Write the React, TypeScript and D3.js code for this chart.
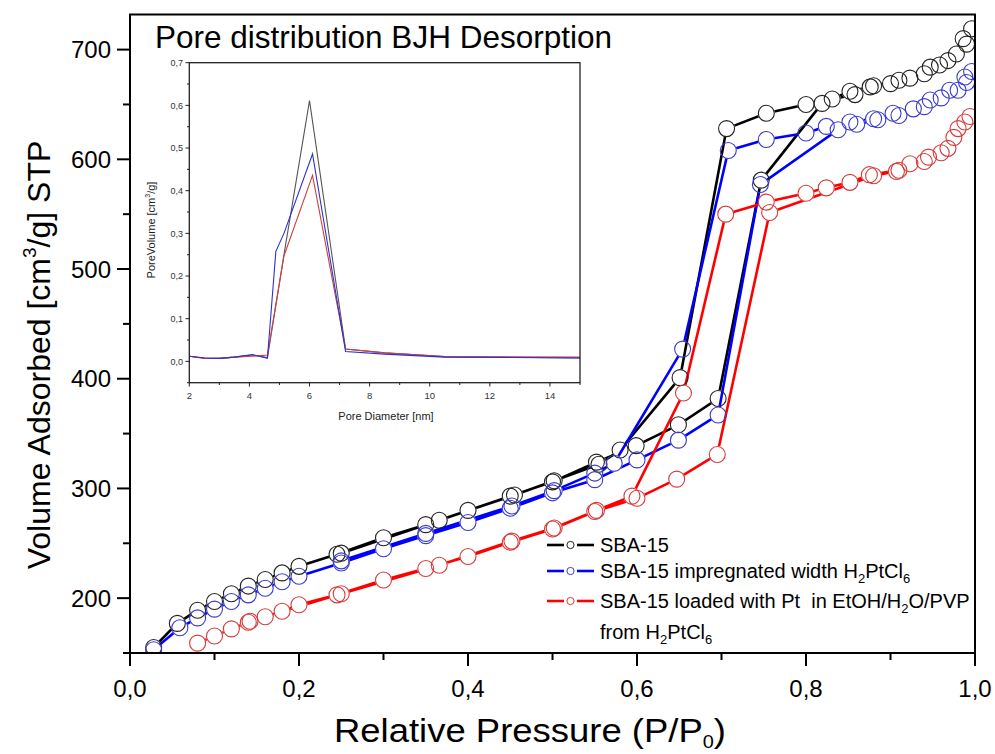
import React from 'react';
import * as d3 from 'd3';

// ---------- main isotherm data ----------
const xTicks = [0, 0.2, 0.4, 0.6, 0.8, 1.0];
const xMinorTicks = [0.1, 0.3, 0.5, 0.7, 0.9];
const yTicks = [200, 300, 400, 500, 600, 700];
const yMinorTicks = [150, 250, 350, 450, 550, 650];

const sbaAdsP = [0.028, 0.056, 0.08, 0.10, 0.12, 0.14, 0.16, 0.18, 0.20, 0.245, 0.30, 0.35, 0.40, 0.45, 0.50, 0.552, 0.599, 0.649, 0.696, 0.747, 0.819, 0.831, 0.852, 0.876, 0.90, 0.923, 0.947, 0.968, 0.986, 0.996];
const sbaAdsV = [155, 177, 189, 197, 204, 211, 217, 223, 229, 240, 255, 267, 280, 293, 306, 324, 339, 358, 382, 581, 651, 655, 662, 666, 669, 674, 684, 690, 710, 719];
const sbaDesP = [0.99, 0.978, 0.958, 0.94, 0.91, 0.88, 0.858, 0.80, 0.753, 0.706, 0.651, 0.58, 0.555, 0.502, 0.455, 0.366, 0.25];
const sbaDesV = [705, 696, 686, 678, 672, 667, 659, 650, 642, 628, 401, 335, 322, 307, 294, 271, 241];

const impAdsP = [0.028, 0.059, 0.08, 0.10, 0.12, 0.14, 0.16, 0.18, 0.20, 0.25, 0.30, 0.35, 0.40, 0.45, 0.50, 0.55, 0.60, 0.649, 0.696, 0.746, 0.838, 0.86, 0.885, 0.903, 0.927, 0.947, 0.97, 0.988, 0.996];
const impAdsV = [153, 173, 182, 190, 197, 203, 209, 215, 220, 232, 245, 257, 269, 282, 296, 308, 326, 344, 367, 577, 627, 632, 636, 642, 646, 654, 663, 675, 680];
const impDesP = [0.99, 0.98, 0.96, 0.94, 0.91, 0.88, 0.852, 0.824, 0.80, 0.753, 0.708, 0.654, 0.573, 0.55, 0.502, 0.452, 0.35, 0.25];
const impDesV = [670, 663, 656, 648, 640, 637, 634, 630, 624, 618, 608, 427, 323, 314, 298, 284, 259, 234];

const ptAdsP = [0.08, 0.10, 0.12, 0.14, 0.16, 0.18, 0.20, 0.245, 0.30, 0.35, 0.40, 0.45, 0.50, 0.55, 0.60, 0.647, 0.695, 0.757, 0.88, 0.907, 0.923, 0.945, 0.968, 0.98, 0.994];
const ptAdsV = [159, 165.5, 172, 178, 183, 188, 194, 203, 216.5, 227, 238, 251, 263, 279, 291, 308.5, 331, 551.5, 585, 589, 596, 602, 610, 628, 639];
const ptDesP = [0.988, 0.975, 0.96, 0.94, 0.91, 0.875, 0.852, 0.824, 0.80, 0.753, 0.705, 0.655, 0.594, 0.552, 0.502, 0.452, 0.366, 0.25, 0.142];
const ptDesV = [634, 620, 606, 598, 590, 586, 579, 574, 569, 561, 550, 387, 293, 280, 264, 252, 230, 204, 179];

// ---------- inset (BJH desorption) data ----------
const insetXTicks = [2, 4, 6, 8, 10, 12, 14];
const insetXMinor = [3, 5, 7, 9, 11, 13, 15];
const insetYTicks = [0, 0.1, 0.2, 0.3, 0.4, 0.5, 0.6, 0.7];
const insetYMinor = [-0.05, 0.05, 0.15, 0.25, 0.35, 0.45, 0.55, 0.65];

const bjhSbaD = [2.0, 2.5, 3.0, 3.5, 4.1, 4.6, 5.15, 6.0, 7.2, 8.5, 10.5, 15.0];
const bjhSbaV = [0.012, 0.008, 0.007, 0.010, 0.015, 0.009, 0.25, 0.611, 0.029, 0.020, 0.011, 0.008];
const bjhImpD = [2.0, 2.5, 3.0, 3.5, 4.1, 4.6, 4.88, 5.15, 6.1, 7.2, 8.5, 10.5, 15.0];
const bjhImpV = [0.012, 0.008, 0.007, 0.010, 0.016, 0.007, 0.258, 0.30, 0.486, 0.023, 0.017, 0.010, 0.008];
const bjhPtD = [2.0, 2.5, 3.0, 3.5, 4.1, 4.6, 5.15, 6.1, 7.2, 8.5, 10.5, 15.0];
const bjhPtV = [0.012, 0.007, 0.007, 0.010, 0.012, 0.015, 0.247, 0.436, 0.029, 0.020, 0.011, 0.010];

const FONT = '"Liberation Sans", Arial, sans-serif';

type Pt = [number, number];
const zip = (a: number[], b: number[]): Pt[] => a.map((v, i) => [v, b[i]] as Pt);

export default function App() {
  const x = d3.scaleLinear().domain([0, 1]).range([130, 975]);
  const y = d3.scaleLinear().domain([150, 732]).range([653, 14.5]);
  const fmt = (v: number) => d3.format('.1f')(v).replace('.', ',');

  const series = [
    { id: 'sba', line: '#000000', sym: '#222222', pts: [...zip(sbaAdsP, sbaAdsV), ...zip(sbaDesP, sbaDesV)] },
    { id: 'imp', line: '#0000ff', sym: '#3a3ad0', pts: [...zip(impAdsP, impAdsV), ...zip(impDesP, impDesV)] },
    { id: 'pt', line: '#ff0000', sym: '#d83a3a', pts: [...zip(ptAdsP, ptAdsV), ...zip(ptDesP, ptDesV)] },
  ];
  const R = 8;
  const lineGen = d3.line<Pt>().x(d => x(d[0])).y(d => y(d[1]));

  // inset scales
  const xi = d3.scaleLinear().domain([2, 15]).range([189.3, 580]);
  const yi = d3.scaleLinear().domain([-0.05, 0.7]).range([382.7, 62.7]);
  const insetLine = d3.line<Pt>().x(d => xi(d[0])).y(d => yi(d[1]));
  const insetSeries = [
    { c: '#555555', pts: zip(bjhSbaD, bjhSbaV) },
    { c: '#d04040', pts: zip(bjhPtD, bjhPtV) },
    { c: '#3030d0', pts: zip(bjhImpD, bjhImpV) },
  ];

  const legend = [
    { c: '#000000', s: '#222222', y: 545 },
    { c: '#0000ff', s: '#3a3ad0', y: 571 },
    { c: '#ff0000', s: '#d83a3a', y: 601 },
  ];

  return (
    <svg width={995} height={754} style={{ position: 'absolute', left: 0, top: 0, background: '#fff' }} fontFamily={FONT}>
      <defs>
        <clipPath id="plotClip">
          <rect x={130} y={14.5} width={845} height={638.5} />
        </clipPath>
        {series.map(s => (
          <mask id={`mask-${s.id}`} key={s.id} maskUnits="userSpaceOnUse" x={0} y={0} width={995} height={754}>
            <rect x={0} y={0} width={995} height={754} fill="white" />
            {s.pts.map((d, i) => (
              <circle key={i} cx={x(d[0])} cy={y(d[1])} r={R + 0.5} fill="black" />
            ))}
          </mask>
        ))}
      </defs>
      <rect x={0} y={0} width={995} height={754} fill="#fff" />

      {/* data */}
      <g clipPath="url(#plotClip)">
        {series.map(s => (
          <path key={s.id} d={lineGen(s.pts) || ''} fill="none" stroke={s.line} strokeWidth={2.6} mask={`url(#mask-${s.id})`} />
        ))}
        {series.map(s => (
          <g key={s.id + 'c'}>
            {s.pts.map((d, i) => (
              <circle key={i} cx={x(d[0])} cy={y(d[1])} r={R} fill="none" stroke={s.sym} strokeWidth={1.1} />
            ))}
          </g>
        ))}
      </g>

      {/* frame */}
      <rect x={130} y={14.5} width={845} height={638.5} fill="none" stroke="#000" strokeWidth={2} />

      {/* x axis ticks */}
      {xTicks.map(t => (
        <g key={'xt' + t}>
          <line x1={x(t)} x2={x(t)} y1={653} y2={666} stroke="#000" strokeWidth={2} />
          <text x={x(t)} y={697} fontSize={24} textAnchor="middle" fill="#000">{fmt(t)}</text>
        </g>
      ))}
      {xMinorTicks.map(t => (
        <line key={'xm' + t} x1={x(t)} x2={x(t)} y1={653} y2={660} stroke="#000" strokeWidth={2} />
      ))}
      {/* y axis ticks */}
      {yTicks.map(t => (
        <g key={'yt' + t}>
          <line x1={117} x2={130} y1={y(t)} y2={y(t)} stroke="#000" strokeWidth={2} />
          <text x={111} y={y(t) + 8.5} fontSize={24} textAnchor="end" fill="#000">{t}</text>
        </g>
      ))}
      {yMinorTicks.map(t => (
        <line key={'ym' + t} x1={123} x2={130} y1={y(t)} y2={y(t)} stroke="#000" strokeWidth={2} />
      ))}

      {/* axis titles */}
      <text x={530} y={742} fontSize={33} textAnchor="middle" fill="#000" textLength={392} lengthAdjust="spacingAndGlyphs">
        Relative Pressure (P/P<tspan fontSize={18} dy={6}>0</tspan><tspan dy={-6}>)</tspan>
      </text>
      <text transform="translate(50,355) rotate(-90)" fontSize={32} textAnchor="middle" fill="#000">
        Volume Adsorbed [cm<tspan fontSize={19} dy={-14}>3</tspan><tspan dy={14}>/g] STP</tspan>
      </text>

      {/* title */}
      <text x={155} y={48} fontSize={31.5} fill="#000">Pore distribution BJH Desorption</text>

      {/* legend */}
      {legend.map((l, i) => (
        <g key={'lg' + i}>
          <line x1={547} x2={564} y1={l.y} y2={l.y} stroke={l.c} strokeWidth={2.6} />
          <line x1={577} x2={594} y1={l.y} y2={l.y} stroke={l.c} strokeWidth={2.6} />
          <circle cx={570.5} cy={l.y} r={3.6} fill="none" stroke={l.s} strokeWidth={1} />
        </g>
      ))}
      <g fontSize={20} fill="#000">
        <text x={600} y={552}>SBA-15</text>
        <text x={600} y={578}>SBA-15 impregnated width H<tspan fontSize={13} dy={5}>2</tspan><tspan dy={-5}>PtCl</tspan><tspan fontSize={13} dy={5}>6</tspan></text>
        <text x={600} y={608}>{'SBA-15 loaded with Pt\u00A0 in EtOH/H'}<tspan fontSize={13} dy={5}>2</tspan><tspan dy={-5}>O/PVP</tspan></text>
        <text x={600} y={639}>from H<tspan fontSize={13} dy={5}>2</tspan><tspan dy={-5}>PtCl</tspan><tspan fontSize={13} dy={5}>6</tspan></text>
      </g>

      {/* inset */}
      <g>
        {insetSeries.map((s, i) => (
          <path key={'is' + i} d={insetLine(s.pts) || ''} fill="none" stroke={s.c} strokeWidth={1.1} />
        ))}
        <rect x={189.3} y={62.7} width={580 - 189.3} height={382.7 - 62.7} fill="none" stroke="#222" strokeWidth={1.3} />
        {insetXTicks.map(t => (
          <g key={'ixt' + t}>
            <line x1={xi(t)} x2={xi(t)} y1={382.7} y2={386.5} stroke="#222" strokeWidth={1} />
            <text x={xi(t)} y={399} fontSize={9.5} textAnchor="middle" fill="#333">{t}</text>
          </g>
        ))}
        {insetXMinor.map(t => (
          <line key={'ixm' + t} x1={xi(t)} x2={xi(t)} y1={382.7} y2={385} stroke="#222" strokeWidth={1} />
        ))}
        {insetYTicks.map(t => (
          <g key={'iyt' + t}>
            <line x1={185.5} x2={189.3} y1={yi(t)} y2={yi(t)} stroke="#222" strokeWidth={1} />
            <text x={183} y={yi(t) + 3.3} fontSize={9} textAnchor="end" fill="#333">{fmt(t)}</text>
          </g>
        ))}
        {insetYMinor.map(t => (
          <line key={'iym' + t} x1={187} x2={189.3} y1={yi(t)} y2={yi(t)} stroke="#222" strokeWidth={1} />
        ))}
        <text x={386} y={420} fontSize={11} textAnchor="middle" fill="#222">Pore Diameter [nm]</text>
        <text transform="translate(155,230) rotate(-90)" fontSize={11} textAnchor="middle" fill="#222">
          PoreVolume [cm<tspan fontSize={7} dy={-5}>3</tspan><tspan dy={5}>/g]</tspan>
        </text>
      </g>
    </svg>
  );
}
